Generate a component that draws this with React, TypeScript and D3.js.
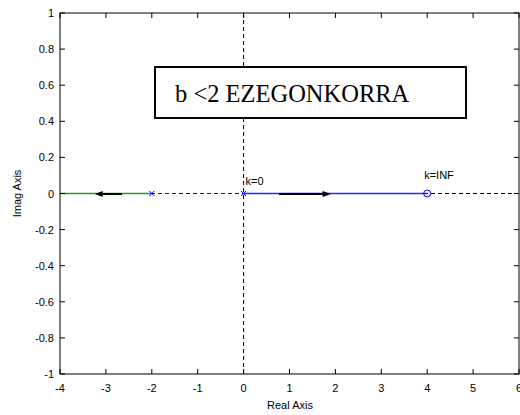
import * as d3 from 'd3';
import React, { useRef, useEffect } from 'react';

const xTicks = [-4, -3, -2, -1, 0, 1, 2, 3, 4, 5, 6];
const yTicks = [-1, -0.8, -0.6, -0.4, -0.2, 0, 0.2, 0.4, 0.6, 0.8, 1];
const poles = [0, -2];
const zeros = [4];
// root locus branches along the real axis
const branchBlue = [[0, 0], [4, 0]];
const branchGreen = [[-2, 0], [-4, 0]];
// arrows: shaft start, head base, head tip
const arrows = [
  { start: 0.77, base: 1.72, tip: 1.9 },
  { start: -2.65, base: -3.07, tip: -3.24 },
];

function App() {
  const ref = useRef(null);
  const width = 520;
  const height = 415;

  useEffect(() => {
    draw();
  }, []);

  const draw = () => {
    const svg = d3.select(ref.current);
    svg.selectAll('*').remove();

    const x = d3.scaleLinear().domain([-4, 6]).range([60, 519]);
    const y = d3.scaleLinear().domain([-1, 1]).range([374, 13]);
    const font = 'Arial, "Liberation Sans", sans-serif';

    svg.append('rect').attr('width', width).attr('height', height).attr('fill', '#fff');

    // dashed axes through the origin
    svg.append('line')
      .attr('x1', x(-4)).attr('x2', x(6)).attr('y1', y(0)).attr('y2', y(0))
      .attr('stroke', '#000').attr('stroke-width', 1).attr('stroke-dasharray', '4,3');
    svg.append('line')
      .attr('x1', x(0)).attr('x2', x(0)).attr('y1', y(1)).attr('y2', y(-1))
      .attr('stroke', '#000').attr('stroke-width', 1).attr('stroke-dasharray', '4,3');

    const line = d3.line().x(d => x(d[0])).y(d => y(d[1]));
    svg.append('path').attr('d', line(branchGreen)).attr('stroke', '#2f9a2f')
      .attr('stroke-width', 1.3).attr('fill', 'none');
    svg.append('path').attr('d', line(branchBlue)).attr('stroke', '#2222ff')
      .attr('stroke-width', 1.3).attr('fill', 'none');
    // dashes peeking through the locus
    svg.append('line')
      .attr('x1', x(-4)).attr('x2', x(4)).attr('y1', y(0)).attr('y2', y(0))
      .attr('stroke', '#555').attr('stroke-width', 1).attr('stroke-dasharray', '4,3')
      .attr('opacity', 0.35);

    // arrows
    arrows.forEach(a => {
      svg.append('line')
        .attr('x1', x(a.start)).attr('x2', x(a.base)).attr('y1', y(0) + 0.5).attr('y2', y(0) + 0.5)
        .attr('stroke', '#000').attr('stroke-width', 2);
      const t = x(a.tip), b = x(a.base), y0 = y(0) + 0.5;
      svg.append('path')
        .attr('d', `M${t},${y0}L${b},${y0 - 3}L${b},${y0 + 3}Z`)
        .attr('fill', '#000');
    });

    // pole markers
    poles.forEach(p => {
      const cx = x(p), cy = y(0), s = 2.5;
      svg.append('path')
        .attr('d', `M${cx - s},${cy - s}L${cx + s},${cy + s}M${cx - s},${cy + s}L${cx + s},${cy - s}`)
        .attr('stroke', '#0000ff').attr('stroke-width', 1);
    });
    zeros.forEach(z => {
      svg.append('circle').attr('cx', x(z)).attr('cy', y(0)).attr('r', 3.5)
        .attr('fill', 'none').attr('stroke', '#0000ff').attr('stroke-width', 1);
    });

    // labels near poles/zero
    svg.append('text').attr('x', x(0) + 2).attr('y', 185).text('k=0')
      .attr('font-family', font).attr('font-size', 11).attr('fill', '#000');
    svg.append('text').attr('x', x(4) - 3).attr('y', 179).text('k=INF')
      .attr('font-family', font).attr('font-size', 11).attr('fill', '#000');

    // axes box
    svg.append('rect')
      .attr('x', x(-4)).attr('y', y(1)).attr('width', x(6) - x(-4)).attr('height', y(-1) - y(1))
      .attr('fill', 'none').attr('stroke', '#000').attr('stroke-width', 1);

    const tl = 5;
    xTicks.forEach(v => {
      svg.append('line').attr('x1', x(v)).attr('x2', x(v)).attr('y1', y(-1)).attr('y2', y(-1) - tl)
        .attr('stroke', '#000');
      svg.append('line').attr('x1', x(v)).attr('x2', x(v)).attr('y1', y(1)).attr('y2', y(1) + tl)
        .attr('stroke', '#000');
      svg.append('text').attr('x', x(v)).attr('y', 392).attr('text-anchor', 'middle')
        .attr('font-family', font).attr('font-size', 11).attr('fill', '#000').text(v);
    });
    yTicks.forEach(v => {
      svg.append('line').attr('x1', x(-4)).attr('x2', x(-4) + tl).attr('y1', y(v)).attr('y2', y(v))
        .attr('stroke', '#000');
      svg.append('line').attr('x1', x(6)).attr('x2', x(6) - tl).attr('y1', y(v)).attr('y2', y(v))
        .attr('stroke', '#000');
      svg.append('text').attr('x', 54).attr('y', y(v) + 4).attr('text-anchor', 'end')
        .attr('font-family', font).attr('font-size', 11).attr('fill', '#000').text(v);
    });

    svg.append('text').attr('x', 290).attr('y', 409).attr('text-anchor', 'middle')
      .attr('font-family', font).attr('font-size', 11).attr('fill', '#000').text('Real Axis');
    svg.append('text').attr('transform', `translate(21,${y(0)}) rotate(-90)`).attr('text-anchor', 'middle')
      .attr('font-family', font).attr('font-size', 11).attr('fill', '#000').text('Imag Axis');

    // annotation box
    svg.append('rect').attr('x', 155).attr('y', 67).attr('width', 311).attr('height', 51)
      .attr('fill', '#fff').attr('stroke', '#000').attr('stroke-width', 2);
    svg.append('text').attr('x', 175).attr('y', 102)
      .attr('font-family', 'Liberation Serif').attr('font-size', 24.5)
      .attr('fill', '#000').text('b <2 EZEGONKORRA');
  };

  return (
    <svg ref={ref} width={width} height={height}
      style={{ position: 'absolute', left: 0, top: 0, display: 'block' }} />
  );
}

export default App;
